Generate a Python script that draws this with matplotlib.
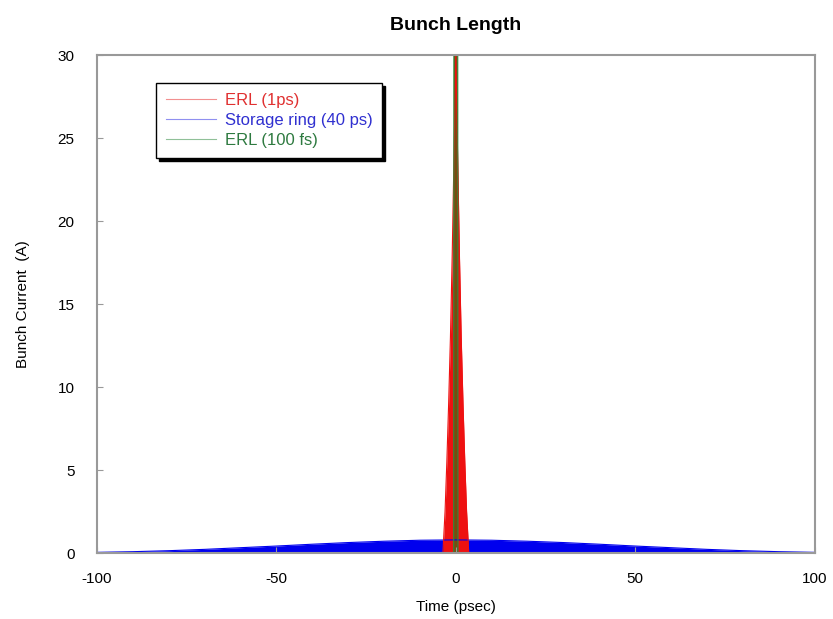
import numpy as np
import matplotlib
matplotlib.use("Agg")
import matplotlib.pyplot as plt

plt.rcParams['font.family'] = ['Liberation Sans', 'DejaVu Sans']
plt.rcParams['axes.unicode_minus'] = False

# Storage ring bunch (40 ps)
ring_t = [-100, -90, -80, -70, -60, -50, -40, -30, -20, -10, 0,
          10, 20, 30, 40, 50, 60, 70, 80, 90, 100]
ring_i = [0.04, 0.08, 0.14, 0.22, 0.32, 0.42, 0.53, 0.63, 0.71, 0.77, 0.79,
          0.77, 0.71, 0.63, 0.53, 0.42, 0.32, 0.22, 0.14, 0.08, 0.04]

# ERL bunch (1 ps)
erl1_t = [-3.6, -3.0, -2.5, -2.0, -1.5, -1.0, -0.5, 0.0, 0.5, 1.0, 1.5, 2.0, 2.5, 3.0, 3.6]
erl1_i = [0.0, 2.5, 5.5, 9.0, 13.0, 18.0, 24.0, 30.0, 24.0, 18.0, 13.0, 9.0, 5.5, 2.5, 0.0]

# ERL bunch (100 fs), peak well above the axis limit
erl100_t = [-0.6, -0.3, 0.0, 0.3, 0.6]
erl100_i = [0.0, 150.0, 300.0, 150.0, 0.0]

fig = plt.figure(figsize=(8.33, 6.19), dpi=100)
ax = fig.add_axes([0.1164, 0.1066, 0.8616, 0.8045])

ax.fill_between(ring_t, ring_i, color='#0000ee', lw=0)
ax.plot(ring_t, ring_i, color='#0000ee', lw=0.8, label='Storage ring (40 ps)')
ax.fill_between(erl1_t, erl1_i, color='#ee1111', lw=0)
ax.plot(erl1_t, erl1_i, color='#ee1111', lw=0.8, label='ERL (1ps)')
ax.fill_between(erl100_t, erl100_i, color='#7a4a10', lw=0)
ax.plot(erl100_t, erl100_i, color='#2e8b3a', lw=0.8, label='ERL (100 fs)')

ax.set_xlim(-100, 100)
ax.set_ylim(0, 30)
ax.set_xticks([-100, -50, 0, 50, 100])
ax.set_yticks([0, 5, 10, 15, 20, 25, 30])
ax.tick_params(direction='in', length=4, color='#999999', labelsize=11)
ax.tick_params(axis='y', pad=16)
ax.tick_params(axis='x', pad=14)
for s in ax.spines.values():
    s.set_color('#999999')
    s.set_linewidth(1.5)

ax.set_title('Bunch Length', fontsize=14, fontweight='bold', pad=18)
ax.set_xlabel('Time (psec)', fontsize=11, labelpad=10)
ax.set_ylabel('Bunch Current  (A)', fontsize=11, labelpad=20)

handles, labels = ax.get_legend_handles_labels()
order = [1, 0, 2]
leg = ax.legend([handles[k] for k in order], [labels[k] for k in order],
                loc='upper left', bbox_to_anchor=(0.071, 0.96),
                fancybox=False, shadow={'color': 'black', 'alpha': 1},
                framealpha=1, fontsize=12, handlelength=3.0,
                edgecolor='black', borderpad=0.6, labelspacing=0.3,
                handletextpad=0.5)
line_colors = ['#f29090', '#9090f0', '#90c098']
text_colors = ['#e03030', '#3030d0', '#2e7a40']
for ln, lc in zip(leg.get_lines(), line_colors):
    ln.set_color(lc)
for txt, c in zip(leg.get_texts(), text_colors):
    txt.set_color(c)

fig.savefig('out.png', dpi=100)
